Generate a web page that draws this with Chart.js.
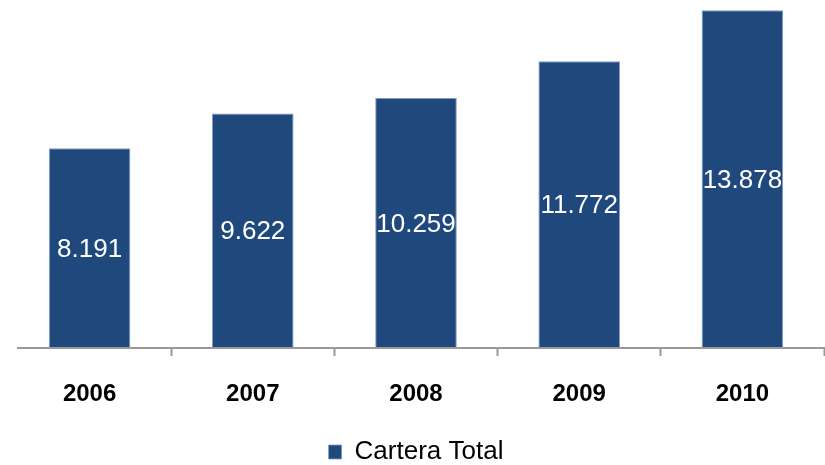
<!DOCTYPE html>
<html>
<head>
<meta charset="utf-8">
<script src="https://cdn.jsdelivr.net/npm/chart.js@4.4.1/dist/chart.umd.min.js"></script>
<style>
  html, body { margin: 0; padding: 0; background: #fff; }
  #wrap { width: 825px; height: 465px; }
</style>
</head>
<body>
<div id="wrap"><canvas id="chart" width="825" height="465"></canvas></div>
<script>
const years = ['2006', '2007', '2008', '2009', '2010'];
const carteraTotal = [8191, 9622, 10259, 11772, 13878];
const serieLabel = 'Cartera Total';

const barColor = '#1f497d';
const fontFam = '"Liberation Sans", Arial, sans-serif';

// etiquetas de valor dentro de cada barra + linea del eje
const valueLabels = {
    id: 'valueLabels',
    beforeDatasetsDraw(chart) {
        const ctx = chart.ctx;
        const a = chart.chartArea;
        ctx.save();
        ctx.strokeStyle = '#999999';
        ctx.lineWidth = 2;
        ctx.beginPath();
        ctx.moveTo(a.left + 9, a.bottom + 1);
        ctx.lineTo(a.right, a.bottom + 1);
        ctx.stroke();
        ctx.restore();
    },
    afterDatasetsDraw(chart) {
        const ctx = chart.ctx;
        const meta = chart.getDatasetMeta(0);
        ctx.save();
        ctx.fillStyle = '#ffffff';
        ctx.font = '26px ' + fontFam;
        ctx.textAlign = 'center';
        ctx.textBaseline = 'middle';
        meta.data.forEach((bar, i) => {
            const txt = carteraTotal[i].toLocaleString('de-DE');
            const y = (bar.y + bar.base) / 2 + 2;
            ctx.fillText(txt, bar.x, y);
        });
        ctx.restore();
    }
};

const ctx = document.getElementById('chart');
const chart = new Chart(ctx, {
    type: 'bar',
    data: {
        labels: years,
        datasets: [{
            label: serieLabel,
            data: carteraTotal,
            backgroundColor: barColor,
            borderColor: '#7f9cc6',
            borderWidth: { top: 1, left: 1, right: 1, bottom: 0 },
            borderSkipped: false,
            barPercentage: 0.5,
            categoryPercentage: 1.0
        }]
    },
    options: {
        responsive: false,
        animation: false,
        layout: { padding: { left: 8, right: 1, top: 0, bottom: -10 } },
        scales: {
            x: {
                afterFit: (scale) => { scale.height = 87; },
                grid: {
                    display: true,
                    drawOnChartArea: false,
                    drawTicks: true,
                    tickLength: 9,
                    tickColor: (c) => c.index === 0 ? 'rgba(0,0,0,0)' : '#999999',
                    tickWidth: 2,
                    offset: true
                },
                border: { display: false },
                ticks: {
                    color: '#000000',
                    padding: 24,
                    font: { family: fontFam, size: 24, weight: 'bold' }
                }
            },
            y: {
                display: false,
                min: 0,
                max: 14300
            }
        },
        plugins: {
            legend: {
                position: 'bottom',
                labels: {
                    color: '#000000',
                    boxWidth: 13,
                    boxHeight: 14,
                    padding: 5,
                    font: { family: fontFam, size: 26 }
                }
            },
            tooltip: { enabled: false }
        }
    },
    plugins: [valueLabels]
});
</script>
</body>
</html>
